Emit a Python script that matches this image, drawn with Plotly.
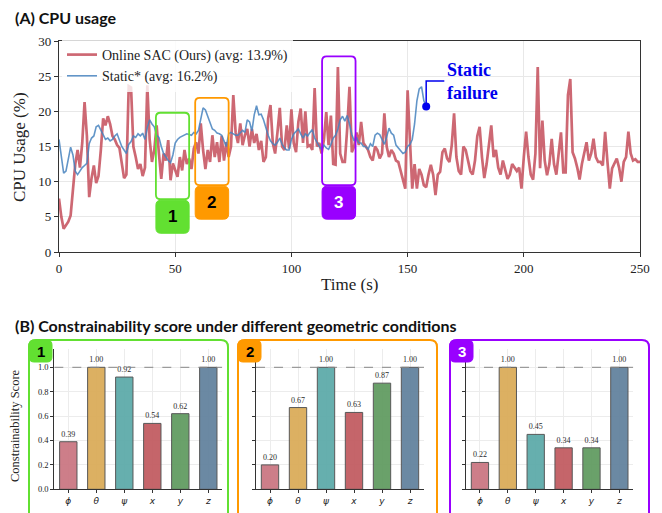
import plotly.graph_objects as go

W, H = 662, 513

# ---------------- data ----------------
sac_time = list(range(0, 251))
sac_cpu = [
    7.6, 5.0, 3.3, 3.8, 4.3, 5.2, 9.5, 12.5, 14.5, 12.0,
    15.5, 21.3, 16.5, 7.8, 10.5, 12.3, 9.8, 10.8, 14.5, 19.0,
    18.0, 19.3, 18.2, 16.5, 16.0, 15.2, 14.8, 12.8, 10.5, 11.0,
    23.6, 23.4, 15.0, 13.5, 11.8, 12.5, 10.8, 12.0, 23.7, 16.0,
    12.8, 14.5, 18.0, 14.0, 10.4, 14.0, 13.0, 15.9, 10.2, 12.6,
    11.5, 10.7, 13.5, 11.6, 14.5, 12.5, 13.3, 11.8, 14.7, 15.6,
    14.0, 18.3, 14.5, 11.8, 14.5, 12.8, 16.6, 13.5, 15.6, 12.8,
    16.5, 13.0, 15.6, 13.5, 15.0, 22.3, 17.0, 15.5, 18.3, 15.2,
    16.6, 17.5, 15.0, 17.5, 15.5, 16.8, 14.5, 15.8, 12.8, 13.5,
    19.0, 20.9, 15.5, 14.0, 17.0, 20.5, 15.0, 14.5, 18.0, 14.7,
    20.3, 15.5, 14.2, 18.5, 20.4, 15.5, 20.0, 15.0, 15.2, 14.5,
    23.3, 15.0, 15.5, 14.0, 16.0, 19.9, 15.2, 19.4, 12.5, 12.4,
    26.3, 14.0, 12.8, 12.8, 17.5, 23.5, 14.2, 15.0, 17.0, 15.2,
    18.5, 15.5, 15.0, 14.5, 13.5, 13.0, 15.0, 14.5, 13.3, 14.0,
    19.7, 15.0, 13.5, 14.5, 14.0, 13.0, 12.8, 11.5, 10.0, 9.0,
    23.0, 15.2, 9.0, 12.5, 9.0, 11.8, 11.0, 9.5, 9.2, 11.0,
    12.4, 11.0, 8.1, 11.0, 11.4, 14.2, 14.7, 13.3, 12.8, 15.2,
    19.7, 13.5, 11.5, 11.0, 15.0, 14.5, 12.8, 11.5, 11.0, 13.0,
    16.5, 17.8, 13.5, 10.5, 12.5, 15.0, 18.0, 13.5, 14.5, 12.0,
    11.0, 13.0, 11.5, 10.4, 11.0, 12.5, 12.0, 11.5, 12.0, 9.0,
    13.5, 17.1, 13.5, 11.0, 10.3, 14.0, 26.3, 11.9, 18.7, 13.0,
    10.9, 12.5, 16.1, 12.5, 11.0, 14.2, 17.0, 11.3, 11.3, 22.3,
    24.6, 14.2, 13.3, 12.0, 10.3, 12.5, 14.0, 15.6, 13.0, 14.0,
    16.1, 13.5, 12.8, 12.8, 12.3, 17.1, 12.8, 9.0, 11.9, 12.5,
    13.3, 12.0, 10.0, 12.8, 13.5, 17.1, 14.0, 13.0, 13.2, 12.8,
    12.8,
]
static_time = list(range(0, 159))
static_cpu = [
    16.0, 13.5, 11.2, 11.5, 13.5, 14.9, 13.8, 11.5, 11.0, 11.5,
    12.0, 12.3, 12.6, 15.4, 16.2, 16.5, 17.8, 18.0, 17.3, 16.5,
    16.0, 16.2, 15.8, 16.0, 16.5, 16.8, 15.8, 15.0, 14.5, 14.0,
    15.3, 15.7, 16.5, 16.3, 16.8, 16.5, 16.9, 16.0, 17.7, 18.8,
    18.2, 17.8, 16.6, 16.3, 15.0, 14.0, 13.5, 13.0, 12.7, 13.8,
    15.5, 16.0, 16.3, 16.5, 16.6, 16.8, 16.7, 16.6, 17.0, 16.8,
    17.3, 19.2, 20.5, 20.2, 19.2, 18.5, 17.5, 17.3, 16.9, 16.8,
    16.6, 15.8, 15.0, 16.8, 17.0, 16.8, 16.6, 16.6, 17.0, 17.3,
    17.0, 18.8, 18.5, 17.2, 19.5, 20.8, 19.5, 19.6, 18.8, 17.5,
    16.6, 15.8, 15.4, 15.2, 15.6, 16.2, 15.3, 14.8, 14.5, 14.5,
    16.0, 16.8, 17.2, 17.5, 16.8, 16.2, 16.8, 16.5, 17.0, 17.4,
    16.2, 15.5, 15.0, 14.6, 15.2, 14.8, 14.6, 15.3, 16.2, 16.6,
    17.5, 18.8, 19.3, 18.6, 19.4, 18.2, 16.7, 15.8, 16.3, 15.5,
    15.5, 15.0, 15.0, 14.6, 15.4, 15.0, 16.6, 16.9, 16.7, 16.0,
    15.3, 16.4, 17.6, 16.9, 16.6, 15.2, 14.8, 14.3, 14.0, 14.2,
    15.0, 15.3, 16.0, 18.2, 21.5, 23.2, 23.5, 21.5, 20.7,
]
sac_name = "Online SAC (Ours) (avg: 13.9%)"
static_name = "Static* (avg: 16.2%)"

# highlighted regions: (t_start, t_end, cpu_low, cpu_high)
regions = [(41.7, 56.0, 7.5, 19.8), (58.6, 73.0, 9.5, 21.9), (113.2, 127.6, 9.5, 27.8)]
region_labels = ["1", "2", "3"]
region_colors = ["#62e031", "#ff9900", "#9900ff"]
region_text_colors = ["black", "black", "white"]

categories = ["ϕ", "θ", "ψ", "x", "y", "z"]
bar_colors = ["#c9737f", "#d9aa55", "#5aa9a8", "#c0585e", "#5e9a5e", "#5f7f9c"]
scores = [
    [0.39, 1.00, 0.92, 0.54, 0.62, 1.00],
    [0.20, 0.67, 1.00, 0.63, 0.87, 1.00],
    [0.22, 1.00, 0.45, 0.34, 0.34, 1.00],
]

SERIF = "Liberation Serif"
SANS_B = "Lato"


def px(x):
    return x / W


def py(y):
    return 1 - y / H


def rounded(x0, x1, y0, y1, rx, ry):
    return (f"M {x0+rx},{y0} L {x1-rx},{y0} Q {x1},{y0} {x1},{y0+ry} "
            f"L {x1},{y1-ry} Q {x1},{y1} {x1-rx},{y1} L {x0+rx},{y1} "
            f"Q {x0},{y1} {x0},{y1-ry} L {x0},{y0+ry} Q {x0},{y0} {x0+rx},{y0} Z")


def note(x, y, text, size, color="#222", family=SERIF, xanchor="center",
         yanchor="middle", angle=0, xref="paper", yref="paper", align="center"):
    return dict(x=x, y=y, xref=xref, yref=yref, xanchor=xanchor, yanchor=yanchor,
                textangle=angle, showarrow=False, text=text, align=align,
                font=dict(family=family, size=size, color=color))


fig = go.Figure()

# ---------------- panel A ----------------
A_X = (59, 640)
A_Y = (41, 252)
fig.add_trace(go.Scatter(x=sac_time, y=sac_cpu, mode="lines", name=sac_name,
                         line=dict(color="rgba(196,78,90,0.85)", width=2.7),
                         xaxis="x", yaxis="y"))
fig.add_trace(go.Scatter(x=static_time, y=static_cpu, mode="lines", name=static_name,
                         line=dict(color="rgba(70,130,190,0.85)", width=1.6),
                         xaxis="x", yaxis="y"))
fig.add_trace(go.Scatter(x=[static_time[-1]], y=[static_cpu[-1]], mode="markers",
                         marker=dict(color="#0000ee", size=8), showlegend=False,
                         hoverinfo="skip", xaxis="x", yaxis="y"))

shapes = []
annotations = []
sx = (A_X[1] - A_X[0]) / 250.0
sy = (A_Y[1] - A_Y[0]) / 30.0
r = 4.5
for (t0, t1, lo, hi), lab, col, tcol in zip(regions, region_labels, region_colors, region_text_colors):
    shapes.append(dict(type="path", xref="x", yref="y",
                       path=rounded(t0, t1, lo, hi, r / sx, r / sy),
                       line=dict(color=col, width=1.8), fillcolor="rgba(0,0,0,0)"))
    lb_hi = lo - 1.0 / sy
    lb_lo = lb_hi - 33 / sy
    shapes.append(dict(type="path", xref="x", yref="y",
                       path=rounded(t0, t1, lb_lo, lb_hi, 5 / sx, 5 / sy),
                       line=dict(color=col, width=1), fillcolor=col))
    annotations.append(note((t0 + t1) / 2, (lb_lo + lb_hi) / 2, f"<b>{lab}</b>", 17,
                            color=tcol, family="Liberation Sans", xref="x", yref="y"))

# static failure callout
tf, vf = static_time[-1], static_cpu[-1]
shapes.append(dict(type="path", xref="x", yref="y",
                   path=f"M {tf},{vf} L {tf},{vf+3.6} L {tf+7.8},{vf+3.6}",
                   line=dict(color="#0000ee", width=1.5)))
annotations.append(note(tf + 8.2, vf + 3.6, "<b>Static<br>failure</b>", 18,
                        color="#0000ee", xanchor="left", xref="x", yref="y", align="left"))

# titles
annotations.append(note(px(13), py(17), "<b>(A) CPU usage</b>", 16, color="#111",
                        family=SANS_B, xanchor="left"))
annotations.append(note(px(13), py(325),
                        "<b>(B) Constrainability score under different geometric conditions</b>",
                        16, color="#111", family=SANS_B, xanchor="left"))
annotations.append(note(px(20), py(147), "CPU Usage (%)", 17, angle=-90))
annotations.append(note(px(349), py(284), "Time (s)", 17))
annotations.append(note(px(15), py(426), "Constrainability Score", 12.5, angle=-90))

layout = dict(
    template="none",
    width=W, height=H, margin=dict(l=0, r=0, t=0, b=0, pad=0),
    paper_bgcolor="white", plot_bgcolor="white",
    xaxis=dict(domain=[px(A_X[0]), px(A_X[1])], range=[0, 250], dtick=50,
               automargin=False,
               showgrid=True, gridcolor="#e8e8e8", gridwidth=1, zeroline=False,
               showline=True, linecolor="#333", linewidth=1.2, mirror=True,
               ticks="outside", ticklen=4, tickcolor="#333",
               tickfont=dict(family=SERIF, size=13, color="#222")),
    yaxis=dict(domain=[py(A_Y[1]), py(A_Y[0])], range=[0, 30], dtick=5,
               automargin=False,
               showgrid=True, gridcolor="#e8e8e8", gridwidth=1, zeroline=False,
               showline=True, linecolor="#333", linewidth=1.2, mirror=True,
               ticks="outside", ticklen=4, tickcolor="#333",
               tickfont=dict(family=SERIF, size=13, color="#222")),
    legend=dict(x=px(62), y=py(39), xanchor="left", yanchor="top",
                bgcolor="rgba(255,255,255,0.8)", borderwidth=0,
                font=dict(family=SERIF, size=14, color="#222"), tracegroupgap=0),
)

# ---------------- panel B ----------------
B_Y = (349, 489.3)
B_X = [(54.3, 222.3), (256, 424), (466, 633.3)]
frames = [(29, 228), (238, 437), (450, 649)]
for i, (vals, (bx0, bx1), (fx0, fx1), lab, col, tcol) in enumerate(
        zip(scores, B_X, frames, region_labels, region_colors, region_text_colors)):
    xa = f"x{i+2}"
    ya = f"y{i+2}"
    fig.add_trace(go.Bar(x=list(range(len(categories))), y=vals, width=0.62,
                         marker=dict(color=bar_colors, line=dict(color="#4a4a4a", width=1),
                                     opacity=0.92),
                         text=[f"{v:.2f}" for v in vals], textposition="outside",
                         constraintext="none", cliponaxis=False,
                         textfont=dict(family=SERIF, size=8, color="#2b2b2b"),
                         outsidetextfont=dict(family=SERIF, size=8, color="#2b2b2b"),
                         showlegend=False, xaxis=xa, yaxis=ya))
    layout[f"xaxis{i+2}"] = dict(domain=[px(bx0), px(bx1)], range=[-0.5, 5.5],
                                 automargin=False,
                                 tickvals=list(range(len(categories))),
                                 ticktext=[f"<i>{c}</i>" for c in categories],
                                 showgrid=True, gridcolor="#ececec", zeroline=False,
                                 showline=True, linecolor="#333", linewidth=1,
                                 ticks="outside", ticklen=3, tickcolor="#333",
                                 tickfont=dict(family="DejaVu Sans", size=9, color="#222"),
                                 anchor=ya)
    layout[f"yaxis{i+2}"] = dict(domain=[py(B_Y[1]), py(B_Y[0])], range=[0, 1.15],
                                 automargin=False,
                                 tickvals=[0, 0.2, 0.4, 0.6, 0.8, 1.0],
                                 ticktext=["0.0", "0.2", "0.4", "0.6", "0.8", "1.0"],
                                 showticklabels=(i == 0),
                                 showgrid=True, gridcolor="#ececec", zeroline=False,
                                 showline=True, linecolor="#333", linewidth=1,
                                 ticks="outside", ticklen=3, tickcolor="#333",
                                 tickfont=dict(family=SERIF, size=8.5, color="#222"),
                                 anchor=xa)
    shapes.append(dict(type="line", xref=xa, yref=ya, x0=-0.5, x1=5.5, y0=1.0, y1=1.0,
                       line=dict(color="#888", width=1, dash="dash")))
    # frame and tab
    shapes.append(dict(type="path", xref="paper", yref="paper",
                       path=rounded(px(fx0), px(fx1), py(530), py(340), px(7), 7 / H),
                       line=dict(color=col, width=2), fillcolor="rgba(0,0,0,0)"))
    shapes.append(dict(type="path", xref="paper", yref="paper",
                       path=rounded(px(fx0), px(fx0 + 23), py(362), py(340), px(5), 5 / H),
                       line=dict(color=col, width=1), fillcolor=col))
    annotations.append(note(px(fx0 + 11.5), py(351), f"<b>{lab}</b>", 15, color=tcol,
                            family="Liberation Sans"))

layout["shapes"] = shapes
layout["annotations"] = annotations
fig.update_layout(**layout)
fig.write_html("out.html", config={"displayModeBar": False},
               post_script="document.body.style.margin='0';document.body.style.overflow='hidden';")
